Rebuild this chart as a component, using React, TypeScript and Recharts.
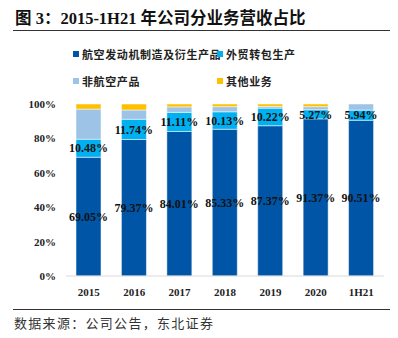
import { BarChart, Bar, XAxis, YAxis, LabelList } from 'recharts';

const categories = ['2015', '2016', '2017', '2018', '2019', '2020', '1H21'];
const aeroEngine = [69.05, 79.37, 84.01, 85.33, 87.37, 91.37, 90.51];
const foreignTrade = [10.48, 11.74, 11.11, 10.13, 10.22, 5.27, 5.94];
const nonAero = [17.5, 5.4, 3.2, 3.0, 1.0, 1.8, 3.55];
const otherBiz = [2.97, 3.49, 1.68, 1.54, 1.41, 1.56, 0];
const yTicks = [0, 20, 40, 60, 80, 100];

const seriesNames = ['航空发动机制造及衍生产品', '外贸转包生产', '非航空产品', '其他业务'];
const colors = ['#0055A6', '#00B0F0', '#9DC3E6', '#FFC000'];

const data = categories.map((c, i) => ({
  name: c,
  a: aeroEngine[i],
  b: foreignTrade[i],
  c: nonAero[i],
  d: otherBiz[i],
}));

const serif = '"Liberation Serif", "Times New Roman", "Noto Sans CJK SC", serif';
const cjk = '"Liberation Serif", "Noto Sans CJK SC", serif';

const pct = (v: unknown) => `${Number(v).toFixed(2)}%`;

function LegendItem({ color, label, x, y }: { color: string; label: string; x: number; y: number }) {
  return (
    <div style={{ position: 'absolute', left: x, top: y, display: 'flex', alignItems: 'center', whiteSpace: 'nowrap' }}>
      <span style={{ width: 6, height: 6, background: color, marginRight: 3 }} />
      <span style={{ fontSize: 11, fontWeight: 700, color: '#222', fontFamily: cjk, letterSpacing: 0.6 }}>{label}</span>
    </div>
  );
}

export default function App() {
  return (
    <div style={{ position: 'absolute', left: 0, top: 0, width: 398, height: 338, background: '#fff', overflow: 'hidden' }}>
      <div style={{ position: 'absolute', left: 15, top: 5, fontSize: 16.5, fontWeight: 700, color: '#111', fontFamily: cjk, whiteSpace: 'nowrap' }}>
        图 3：2015-1H21 年公司分业务营收占比
      </div>
      <div style={{ position: 'absolute', left: 13, top: 30, width: 377, height: 1, background: '#333' }} />

      <LegendItem color={colors[0]} label={seriesNames[0]} x={73} y={46} />
      <LegendItem color={colors[1]} label={seriesNames[1]} x={217} y={46} />
      <LegendItem color={colors[2]} label={seriesNames[2]} x={73} y={73} />
      <LegendItem color={colors[3]} label={seriesNames[3]} x={217} y={73} />

      <div style={{ position: 'absolute', left: 0, top: 0 }}>
        <BarChart width={398} height={300} data={data} margin={{ top: 104, right: 14, bottom: 4, left: 0 }} barSize={25}>
          <XAxis
            dataKey="name"
            tickLine={false}
            axisLine={{ stroke: '#D9D9D9' }}
            tick={{ fontSize: 11, fontWeight: 700, fill: '#222', fontFamily: serif }}
            tickMargin={6}
            height={20}
            interval={0}
          />
          <YAxis
            type="number"
            domain={[0, 100]}
            ticks={yTicks}
            tickFormatter={(v: number) => `${v}%`}
            axisLine={false}
            tickLine={false}
            width={66}
            tickMargin={4}
            tick={{ fontSize: 11, fontWeight: 700, fill: '#222', fontFamily: serif }}
            allowDataOverflow
          />
          <Bar dataKey="a" stackId="s" fill={colors[0]} stroke="#fff" strokeWidth={0.5} isAnimationActive={false}>
            <LabelList dataKey="a" position="center" formatter={pct} style={{ fontSize: 12, fontWeight: 700, fill: '#111', fontFamily: serif }} />
          </Bar>
          <Bar dataKey="b" stackId="s" fill={colors[1]} stroke="#fff" strokeWidth={0.5} isAnimationActive={false}>
            <LabelList dataKey="b" position="center" formatter={pct} style={{ fontSize: 12, fontWeight: 700, fill: '#111', fontFamily: serif }} />
          </Bar>
          <Bar dataKey="c" stackId="s" fill={colors[2]} stroke="#fff" strokeWidth={0.5} isAnimationActive={false} />
          <Bar dataKey="d" stackId="s" fill={colors[3]} stroke="#fff" strokeWidth={0.5} isAnimationActive={false} />
        </BarChart>
      </div>

      <div style={{ position: 'absolute', left: 13, top: 309, width: 377, height: 1, background: '#333' }} />
      <div style={{ position: 'absolute', left: 14, top: 313, fontSize: 13, color: '#333', fontFamily: cjk, letterSpacing: 1.3, whiteSpace: 'nowrap' }}>
        数据来源：公司公告，东北证券
      </div>
    </div>
  );
}
